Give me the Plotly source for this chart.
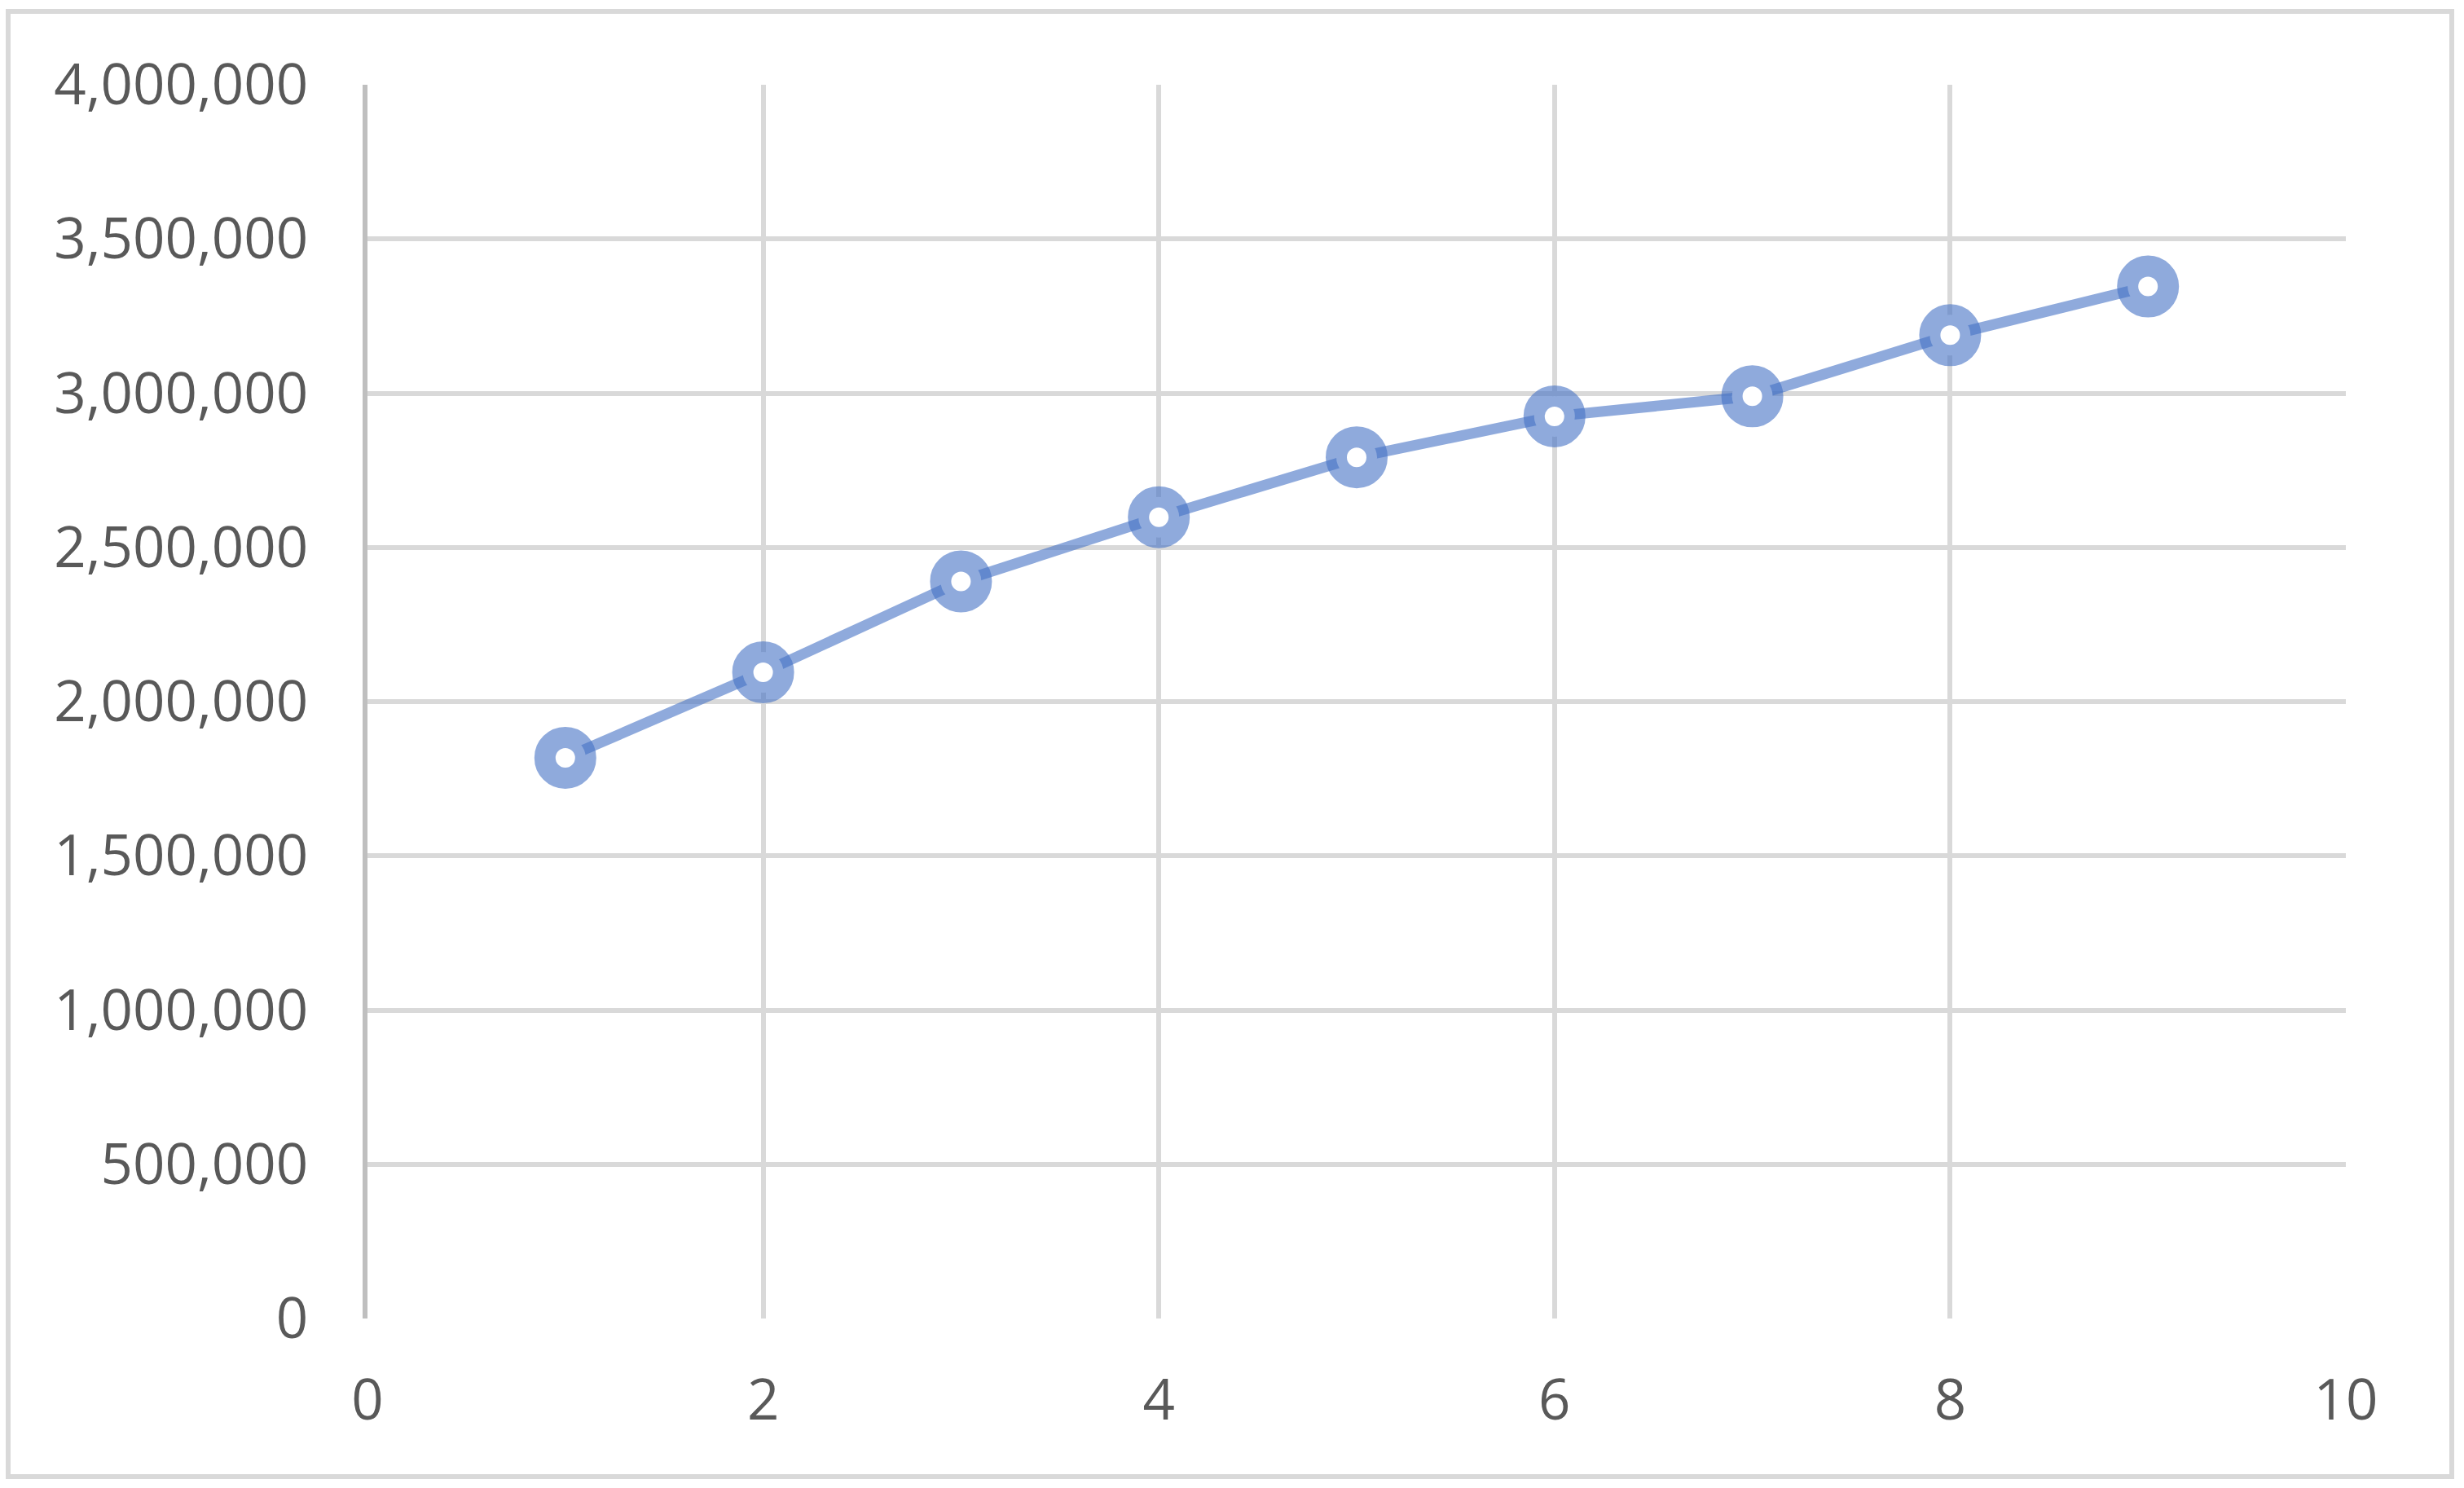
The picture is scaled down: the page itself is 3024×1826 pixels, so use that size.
import plotly.graph_objects as go

# values
x_vals = [1, 2, 3, 4, 5, 6, 7, 8, 9]
y_vals = [1818000, 2095000, 2390000, 2598000, 2792000, 2925000, 2990000, 3188000, 3346000]
x_ticks = [0, 2, 4, 6, 8, 10]
y_ticks = [0, 500000, 1000000, 1500000, 2000000, 2500000, 3000000, 3500000, 4000000]

W, H = 3024, 1826
L, R, T, B = 451, 145, 104, 208
pw, ph = W - L - R, H - T - B

blue = "rgba(68,114,196,0.6)"
grid = "#D9D9D9"

fig = go.Figure()
fig.add_trace(go.Scatter(
    x=x_vals, y=y_vals, mode="lines+markers",
    line=dict(color=blue, width=13),
    marker=dict(symbol="circle", size=50, color="white",
                line=dict(color=blue, width=26)),
    showlegend=False, hoverinfo="x+y",
))

# outer chart border
bx0, bx1, by0, by1 = 10, 3009, 14, 1812
fig.add_shape(type="rect", xref="paper", yref="paper",
              x0=(bx0 - L) / pw, x1=(bx1 - L) / pw,
              y0=(T + ph - by1) / ph, y1=(T + ph - by0) / ph,
              line=dict(color=grid, width=6), fillcolor="rgba(0,0,0,0)", layer="below")

fig.update_layout(
    width=W, height=H,
    margin=dict(l=L, r=R, t=T, b=B),
    paper_bgcolor="white", plot_bgcolor="white",
    font=dict(family="Open Sans", size=69, color="#595959"),
)
fig.update_xaxes(
    range=[0, 10], tickvals=x_ticks, ticktext=[str(v) for v in x_ticks],
    showgrid=True, gridcolor=grid, gridwidth=6,
    showline=False, zeroline=False,
    ticks="outside", ticklen=40, tickcolor="rgba(0,0,0,0)",
)
fig.update_yaxes(
    range=[0, 4000000], tickvals=y_ticks, ticktext=[f"{v:,}" for v in y_ticks],
    showgrid=True, gridcolor=grid, gridwidth=6,
    showline=True, linecolor="#BFBFBF", linewidth=6,
    zeroline=False,
    ticks="outside", ticklen=53, tickcolor="rgba(0,0,0,0)",
)

fig.write_html("out.html", config={"displayModeBar": False},
               post_script="document.body.style.margin='0';")
